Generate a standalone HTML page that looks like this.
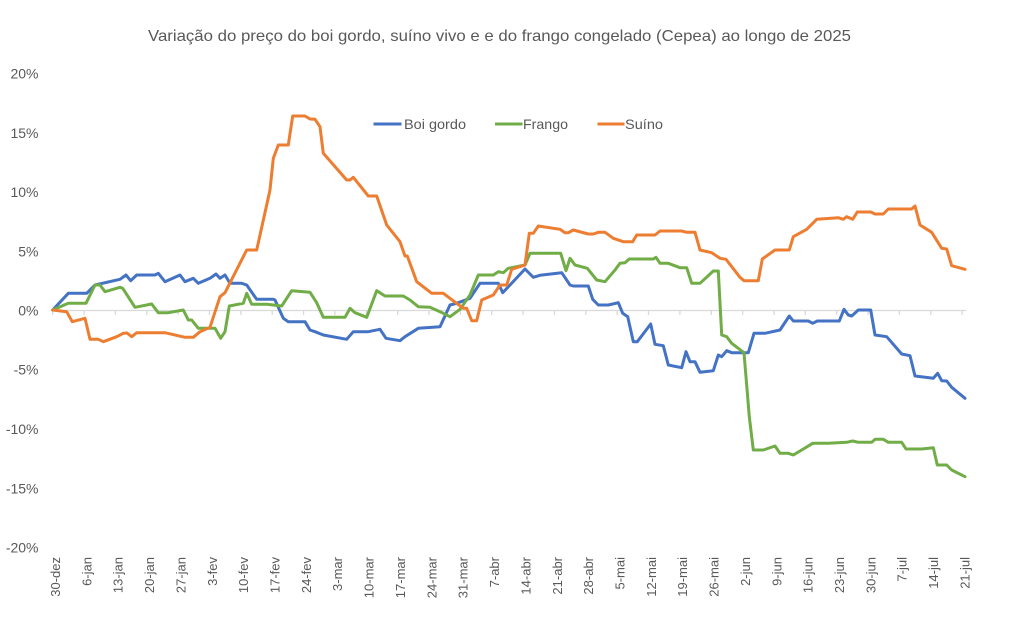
<!DOCTYPE html>
<html>
<head>
<meta charset="utf-8">
<style>
  html, body { margin: 0; padding: 0; background: #ffffff; }
  svg { display: block; }
  text { font-family: "Liberation Sans", sans-serif; fill: #595959; }
</style>
</head>
<body>
<svg width="1011" height="629" viewBox="0 0 1011 629" xmlns="http://www.w3.org/2000/svg">
  <rect x="0" y="0" width="1011" height="629" fill="#ffffff"/>

  <!-- Title -->
  <text x="148" y="41" font-size="16" textLength="703" lengthAdjust="spacingAndGlyphs">Variação do preço do boi gordo, suíno vivo e e do frango congelado (Cepea) ao longo de 2025</text>

  <!-- Y axis labels -->
  <g font-size="14" text-anchor="end">
    <text x="38.5" y="78.5">20%</text>
    <text x="38.5" y="137.8">15%</text>
    <text x="38.5" y="197">10%</text>
    <text x="38.5" y="256.3">5%</text>
    <text x="38.5" y="315.5">0%</text>
    <text x="38.5" y="374.7">-5%</text>
    <text x="38.5" y="434">-10%</text>
    <text x="38.5" y="493.3">-15%</text>
    <text x="38.5" y="552.5">-20%</text>
  </g>

  <!-- Zero axis line -->
  <line x1="52.7" y1="310.5" x2="966" y2="310.5" stroke="#d9d9d9" stroke-width="1.3"/>
  <!-- Ticks -->
  <g stroke="#d9d9d9" stroke-width="1.3">
    <line x1="52.7" y1="310.5" x2="52.7" y2="315"/>
    <line x1="84.1" y1="310.5" x2="84.1" y2="315"/>
    <line x1="115.4" y1="310.5" x2="115.4" y2="315"/>
    <line x1="146.8" y1="310.5" x2="146.8" y2="315"/>
    <line x1="178.1" y1="310.5" x2="178.1" y2="315"/>
    <line x1="209.5" y1="310.5" x2="209.5" y2="315"/>
    <line x1="240.9" y1="310.5" x2="240.9" y2="315"/>
    <line x1="272.2" y1="310.5" x2="272.2" y2="315"/>
    <line x1="303.6" y1="310.5" x2="303.6" y2="315"/>
    <line x1="334.9" y1="310.5" x2="334.9" y2="315"/>
    <line x1="366.3" y1="310.5" x2="366.3" y2="315"/>
    <line x1="397.7" y1="310.5" x2="397.7" y2="315"/>
    <line x1="429.0" y1="310.5" x2="429.0" y2="315"/>
    <line x1="460.4" y1="310.5" x2="460.4" y2="315"/>
    <line x1="491.7" y1="310.5" x2="491.7" y2="315"/>
    <line x1="523.1" y1="310.5" x2="523.1" y2="315"/>
    <line x1="554.5" y1="310.5" x2="554.5" y2="315"/>
    <line x1="585.8" y1="310.5" x2="585.8" y2="315"/>
    <line x1="617.2" y1="310.5" x2="617.2" y2="315"/>
    <line x1="648.5" y1="310.5" x2="648.5" y2="315"/>
    <line x1="679.9" y1="310.5" x2="679.9" y2="315"/>
    <line x1="711.3" y1="310.5" x2="711.3" y2="315"/>
    <line x1="742.6" y1="310.5" x2="742.6" y2="315"/>
    <line x1="774.0" y1="310.5" x2="774.0" y2="315"/>
    <line x1="805.3" y1="310.5" x2="805.3" y2="315"/>
    <line x1="836.7" y1="310.5" x2="836.7" y2="315"/>
    <line x1="868.1" y1="310.5" x2="868.1" y2="315"/>
    <line x1="899.4" y1="310.5" x2="899.4" y2="315"/>
    <line x1="930.8" y1="310.5" x2="930.8" y2="315"/>
    <line x1="962.1" y1="310.5" x2="962.1" y2="315"/>
  </g>

  <!-- X axis labels (rotated) -->
  <g font-size="13" text-anchor="end">
    <text transform="translate(60.0,557) rotate(-90)">30-dez</text>
    <text transform="translate(91.4,557) rotate(-90)">6-jan</text>
    <text transform="translate(122.7,557) rotate(-90)">13-jan</text>
    <text transform="translate(154.1,557) rotate(-90)">20-jan</text>
    <text transform="translate(185.4,557) rotate(-90)">27-jan</text>
    <text transform="translate(216.8,557) rotate(-90)">3-fev</text>
    <text transform="translate(248.2,557) rotate(-90)">10-fev</text>
    <text transform="translate(279.5,557) rotate(-90)">17-fev</text>
    <text transform="translate(310.9,557) rotate(-90)">24-fev</text>
    <text transform="translate(342.2,557) rotate(-90)">3-mar</text>
    <text transform="translate(373.6,557) rotate(-90)">10-mar</text>
    <text transform="translate(405.0,557) rotate(-90)">17-mar</text>
    <text transform="translate(436.3,557) rotate(-90)">24-mar</text>
    <text transform="translate(467.7,557) rotate(-90)">31-mar</text>
    <text transform="translate(499.0,557) rotate(-90)">7-abr</text>
    <text transform="translate(530.4,557) rotate(-90)">14-abr</text>
    <text transform="translate(561.8,557) rotate(-90)">21-abr</text>
    <text transform="translate(593.1,557) rotate(-90)">28-abr</text>
    <text transform="translate(624.5,557) rotate(-90)">5-mai</text>
    <text transform="translate(655.8,557) rotate(-90)">12-mai</text>
    <text transform="translate(687.2,557) rotate(-90)">19-mai</text>
    <text transform="translate(718.6,557) rotate(-90)">26-mai</text>
    <text transform="translate(749.9,557) rotate(-90)">2-jun</text>
    <text transform="translate(781.3,557) rotate(-90)">9-jun</text>
    <text transform="translate(812.6,557) rotate(-90)">16-jun</text>
    <text transform="translate(844.0,557) rotate(-90)">23-jun</text>
    <text transform="translate(875.4,557) rotate(-90)">30-jun</text>
    <text transform="translate(906.7,557) rotate(-90)">7-jul</text>
    <text transform="translate(938.1,557) rotate(-90)">14-jul</text>
    <text transform="translate(969.4,557) rotate(-90)">21-jul</text>
  </g>

  <!-- Series -->
  <g fill="none" stroke-width="3" stroke-linejoin="round" stroke-linecap="round">
    <!-- Boi gordo -->
    <polyline stroke="#4472C4" points="52.7,310 68.3,293.3 86.7,293.3 95,285 120,279.3 126,275 130.7,280.7 136.7,275 155,275 158.3,273.3 165,281.7 180,275 185,281.7 193.3,278.3 198.3,283.3 210,278.3 216,274 220,278.3 225,275 230,283.3 241.7,283.3 246.7,285 256.7,299.3 273.3,299.3 275,300 283.3,318.3 288.3,321.7 305,321.7 310,330 315,331.7 323.3,335 346.7,339.3 353.3,331.7 368.3,331.7 380,329.3 386,338.3 400,340.7 405,336.7 418.3,328.3 440,326.7 450,305 456.7,303.3 470,298.3 480,283.3 498.3,283.3 502.7,292.7 510,285 525,269 533.3,277.3 540,275.3 561.7,272.7 570,285 573.3,286 588.3,286 592.7,299.3 598.3,305 608.3,305 618.3,302.7 622.7,313.3 627.7,316.7 633.3,341.7 637.3,341.7 650.7,324 655,344.3 663.3,345.7 668.3,365 681.7,367.7 686,351.7 690,361.7 695,361.7 700,372.3 713.3,370.7 718.3,355 721.7,356.7 726.7,350.7 731.7,352.7 748.3,352.7 754,333.3 765,333.3 780,330 789.3,316 793.3,321 808.3,321 812.7,323.3 817.3,321 839.3,321 844,309.3 848.3,315 851.7,316 858.3,310 870.7,310 875,335 886.7,336.7 901.7,354 910,355.7 915,376 933.3,378.3 937.7,373.3 941.7,380.7 946.7,381 951.7,387.3 965,398.3"/>
    <!-- Frango -->
    <polyline stroke="#70AD47" points="52.7,310 68.3,303.3 86,303.3 95,285 100,285 105,291.7 120,287.3 122.7,288.3 135,307.3 151.7,304 158.3,312.7 168.3,312.7 183.3,310 188.3,320 191.7,320 198.3,328.3 215,328.3 220.7,338.3 225,331.7 229.3,306 243.3,303.3 246.7,293.3 251.7,304.3 266.7,304.3 281.7,306 291.7,290.7 310,292.3 316.7,302.7 323.3,317.3 345,317.3 350,308.3 355,312.7 366.7,317.3 376.7,290.7 385,296 403.3,296 410,300 418.3,306.7 430,307.3 440,311.7 450,316.7 460,309.3 470,295 478.3,275 493.3,275 498.3,271.7 503.3,272.7 508.3,268.3 525,265 530,253.3 560.7,253.3 566,270.7 570,258.3 575,265 587.3,268.3 596.7,280 605,281.7 615,270 620,263.3 625,262.7 629.3,259 653.3,259 656,257.3 660,263.3 668.3,263.3 680,267.7 686.7,267.7 691.7,283.3 700,283.3 713.3,271 718.3,271 721.7,335 726.7,336.7 731.7,343.3 744,352.7 749.3,416.7 753.3,450 763.3,450 775,446 780,453.3 788.3,453.3 793.3,455 801.7,450 812.7,443.3 828.3,443.3 846.7,442.3 852.7,441 858.3,442.3 871.7,442.3 875,439.3 883.3,439.3 888.3,442.3 901.7,442.3 906,449 921.7,449 933.3,447.7 937.3,465 946.7,465 951.7,470 965,476.7"/>
    <!-- Suíno -->
    <polyline stroke="#ED7D31" points="52.7,310 66.7,311.7 72.3,321.7 85,318.3 90,339.3 98.3,339.3 103.3,341.7 116.7,336.7 123.3,333.3 127,333 131.7,336.7 136.7,332.7 165,332.7 185,337.3 193.3,337.3 200,331.7 210,327.3 220,296.7 225,292.7 246.7,250 256.7,250 270,190 273.3,158.3 278.3,145 288.3,145 292.7,116 305,116 310,119 315,119.3 320,126.7 323.3,153.3 346.7,180 350,180 353.3,177.3 368.3,196 376.7,196 386.7,225 400,241.7 405,256 407.3,256 416.7,281.7 431.7,293.3 443.3,293.3 463.3,308.3 466.7,308.3 471.7,320.7 476.7,320.7 481.7,300 493.3,295 500,285 506.7,285 511.7,269.3 525,265 529.3,233.3 533.3,233.3 538.3,226 560,229.3 565,232.7 568.3,232.7 573.3,230 588.3,234 593.3,234 598.3,232.3 605,232.3 613.3,238.3 623.3,241.7 632.7,241.7 636.7,235 655,235 660,231 681.7,231 686.7,232.3 695,232.3 700,250 711.7,252.7 720,258.3 726,259.3 740,277.3 744,280.7 758.3,280.7 762.3,259 775,250 789.3,250 793.3,236.7 806.7,229.3 816.7,219.3 838.3,217.7 843.3,219.3 846.7,216.7 852.7,219.3 857.3,212 870.7,212 875,214 883.3,214 888.3,209 911.7,209 915,206 920,225 931.7,232.3 941.7,248.3 946.7,249 951.7,265.7 965,269.3"/>
  </g>

  <!-- Legend -->
  <g font-size="14">
    <line x1="373.5" y1="124" x2="401.5" y2="124" stroke="#4472C4" stroke-width="3"/>
    <text x="404" y="129" textLength="62" lengthAdjust="spacingAndGlyphs">Boi gordo</text>
    <line x1="495" y1="124" x2="522.5" y2="124" stroke="#70AD47" stroke-width="3"/>
    <text x="523" y="129" textLength="45" lengthAdjust="spacingAndGlyphs">Frango</text>
    <line x1="597.5" y1="124" x2="624.5" y2="124" stroke="#ED7D31" stroke-width="3"/>
    <text x="625" y="129" textLength="38" lengthAdjust="spacingAndGlyphs">Suíno</text>
  </g>
</svg>
</body>
</html>
